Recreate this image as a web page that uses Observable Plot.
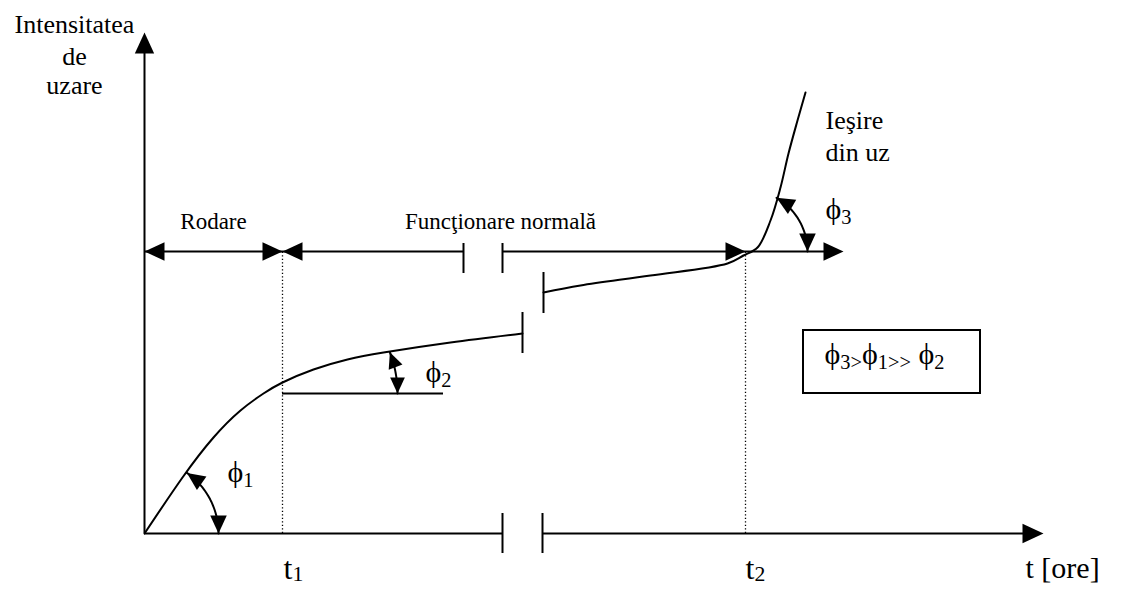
<!DOCTYPE html>
<html><head><meta charset="utf-8">
<script src="https://cdn.jsdelivr.net/npm/d3@7"></script>
<script src="https://cdn.jsdelivr.net/npm/@observablehq/plot@0.6"></script>
<style>body{margin:0;background:#fff}</style>
</head><body><div id="chart"></div>
<script>
// ---- data (chart units: t = time, u = wear intensity) ----
const runInCurve = [[0,0],[38,56],[69,96],[96,123],[119,140],[138,151],[169,164],[203,174],[239,181],[306,191],[378,200]];
const wearCurve = [[399,241],[436,248],[506,258],[583,270],[599,278],[613,286],[626,313],[636,346],[644,380],[653,413],[661,441]];
const tMax = 899, uMax = 501;
const t1 = 138, t2 = 601;
const axisBreak = [358, 398];
const phaseRowU = 282;
const phaseBreak = [319, 358];
const phaseEnd = 699;
const curveBreakTicks = [{t: 378, u0: 180, u1: 221}, {t: 399, u0: 220, u1: 261}];
const phi2Ref = [{t0: 138, t1: 299, u: 140}];
const angleArcs = [
  {name: "phi1", ct: 0, cu: 0, r: 74, a0: 0, a1: 55, head: 18},
  {name: "phi2", ct: 138, cu: 140, r: 115, a0: 0, a1: 21, head: 16},
  {name: "phi3", ct: 601, cu: 282, r: 62, a0: 0, a1: 60, head: 18}
];
const ratioBox = [{t0: 659, t1: 836, u0: 140, u1: 203}];
const axisTitle = [{text: "Intensitatea", t: -70, u: 501}, {text: "de", t: -70, u: 469}, {text: "uzare", t: -70, u: 440}];
const phaseLabels = [{text: "Rodare", t: 69, u: 305}, {text: "Funcţionare normală", t: 356, u: 305}];
const exitLabel = [{text: "Ieşire", t: 681, u: 405}, {text: "din uz", t: 681, u: 373}];
const phiLabels = [{text: "ϕ_{1}", t: 83, u: 52}, {text: "ϕ_{2}", t: 281, u: 152}, {text: "ϕ_{3}", t: 681, u: 315}];
const ratioText = [{text: "ϕ_{3>}ϕ_{1>>} ϕ_{2}", t: 680, u: 170}];
const timeTicks = [{text: "t_{1}", t: 139, u: -45}, {text: "t_{2}", t: 601, u: -45}];
const timeTitle = [{text: "t [ore]", t: 881, u: -44}];

// ---- arrowheads ----
const heads = [
  {t: 0, u: uMax, rot: 0, len: 21},
  {t: tMax, u: 0, rot: 90, len: 21},
  {t: 0, u: phaseRowU, rot: -90, len: 20},
  {t: t1, u: phaseRowU, rot: 90, len: 20},
  {t: t1, u: phaseRowU, rot: -90, len: 20},
  {t: t2, u: phaseRowU, rot: 90, len: 20},
  {t: phaseEnd, u: phaseRowU, rot: 90, len: 20}
];
const arcPts = [];
for (const a of angleArcs) {
  const rad = d => d * Math.PI / 180;
  for (let d = a.a0; d <= a.a1 + 1e-9; d += (a.a1 - a.a0) / 30) {
    arcPts.push({name: a.name, t: a.ct + a.r * Math.cos(rad(d)), u: a.cu + a.r * Math.sin(rad(d))});
  }
  const A1 = rad(a.a1), A0 = rad(a.a0);
  heads.push({t: a.ct + a.r * Math.cos(A1), u: a.cu + a.r * Math.sin(A1),
    rot: Math.atan2(-Math.sin(A1), Math.cos(A1)) * 180 / Math.PI, len: a.head});
  heads.push({t: a.ct + a.r * Math.cos(A0), u: a.cu + a.r * Math.sin(A0),
    rot: Math.atan2(Math.sin(A0), -Math.cos(A0)) * 180 / Math.PI, len: a.head});
}
const headSymbol = {
  draw(ctx, size) {
    const L = Math.sqrt(size / Math.PI), w = 0.46 * L;
    ctx.moveTo(0, 0); ctx.lineTo(w, L); ctx.lineTo(-w, L); ctx.closePath();
  }
};

const serif = "Liberation Serif";
const sw = 2;
const chart = Plot.plot({
  width: 1124, height: 601,
  marginLeft: 144, marginRight: 81, marginTop: 32, marginBottom: 68,
  x: {domain: [0, tMax], axis: null},
  y: {domain: [0, uMax], axis: null},
  r: {type: "identity"},
  style: {fontFamily: serif, color: "black", background: "white"},
  marks: [
    Plot.ruleY([0], {x1: 0, x2: axisBreak[0], strokeWidth: sw}),
    Plot.ruleY([0], {x1: axisBreak[1], x2: tMax - 10, strokeWidth: sw}),
    Plot.ruleX(axisBreak, {y1: -20, y2: 20, strokeWidth: sw}),
    Plot.ruleX([0], {y1: 0, y2: uMax - 10, strokeWidth: sw}),
    Plot.ruleY([phaseRowU], {x1: 0, x2: phaseBreak[0], strokeWidth: sw}),
    Plot.ruleY([phaseRowU], {x1: phaseBreak[1], x2: phaseEnd - 10, strokeWidth: sw}),
    Plot.ruleX(phaseBreak, {y1: phaseRowU + 8, y2: phaseRowU - 22, strokeWidth: sw}),
    Plot.ruleX([t1, t2], {y1: 0, y2: phaseRowU, strokeWidth: 1.3, strokeDasharray: "1.3,2.2"}),
    Plot.line(runInCurve, {x: d => d[0], y: d => d[1], curve: "natural", strokeWidth: sw}),
    Plot.line(wearCurve, {x: d => d[0], y: d => d[1], curve: "catmull-rom", strokeWidth: sw}),
    Plot.ruleX(curveBreakTicks, {x: "t", y1: "u0", y2: "u1", strokeWidth: sw}),
    Plot.ruleY(phi2Ref, {y: "u", x1: "t0", x2: "t1", strokeWidth: sw}),
    Plot.line(arcPts, {x: "t", y: "u", z: "name", strokeWidth: sw}),
    Plot.dot(heads, {x: "t", y: "u", r: "len", rotate: "rot", symbol: headSymbol, fill: "black", stroke: "none"}),
    Plot.rect(ratioBox, {x1: "t0", x2: "t1", y1: "u0", y2: "u1", fill: "none", stroke: "black", strokeWidth: sw}),
    Plot.text(axisTitle, {x: "t", y: "u", text: "text", fontSize: 26, lineAnchor: "bottom", textAnchor: "middle"}),
    Plot.text(phaseLabels, {x: "t", y: "u", text: "text", fontSize: 23, lineAnchor: "bottom", textAnchor: "middle"}),
    Plot.text(exitLabel, {x: "t", y: "u", text: "text", fontSize: 26, lineAnchor: "bottom", textAnchor: "start"}),
    Plot.text(phiLabels, {x: "t", y: "u", text: "text", fontSize: 30, lineAnchor: "bottom", textAnchor: "start"}),
    Plot.text(ratioText, {x: "t", y: "u", text: "text", fontSize: 30, lineAnchor: "bottom", textAnchor: "start"}),
    Plot.text(timeTicks, {x: "t", y: "u", text: "text", fontSize: 32, lineAnchor: "bottom", textAnchor: "start"}),
    Plot.text(timeTitle, {x: "t", y: "u", text: "text", fontSize: 30, lineAnchor: "bottom", textAnchor: "start"})
  ]
});

// subscripts: turn "_{...}" into lowered, smaller tspans
const NS = "http://www.w3.org/2000/svg";
chart.querySelectorAll("text").forEach(el => {
  const raw = el.textContent;
  if (!raw.includes("_{")) return;
  const isTime = raw.startsWith("t");
  const shift = isTime ? 2 : 5;
  while (el.firstChild) el.removeChild(el.firstChild);
  const re = /_\{([^}]*)\}/g;
  let last = 0, m, lowered = false;
  const add = (s, sub) => {
    if (!s) return;
    const ts = document.createElementNS(NS, "tspan");
    ts.textContent = s;
    if (sub) { ts.setAttribute("font-size", "0.68em"); if (!lowered) ts.setAttribute("dy", shift); lowered = true; }
    else if (lowered) { ts.setAttribute("dy", -shift); lowered = false; }
    el.appendChild(ts);
  };
  while ((m = re.exec(raw))) { add(raw.slice(last, m.index), false); add(m[1], true); last = re.lastIndex; }
  add(raw.slice(last), false);
});
document.getElementById("chart").appendChild(chart);
</script>
</body></html>
